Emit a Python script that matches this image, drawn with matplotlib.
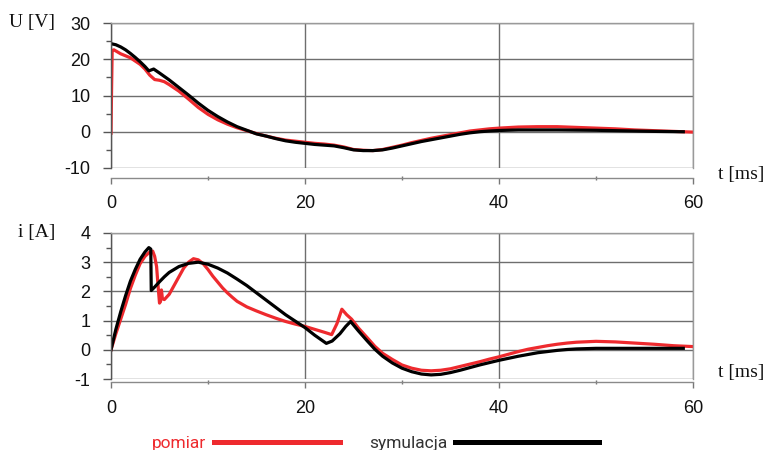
import matplotlib
matplotlib.use("Agg")
import matplotlib.pyplot as plt
from matplotlib.ticker import MultipleLocator
from matplotlib.lines import Line2D

plt.rcParams["axes.unicode_minus"] = False

# ---------------- data ----------------
# Voltage U [V] - measurement (pomiar)
t_u_meas = [0.0, 0.05, 0.12, 0.3, 1, 2, 3, 3.5, 4, 4.5, 5, 5.5, 6, 7, 8, 9, 10, 11, 12, 13,
            14, 15, 16, 17, 18, 19, 20, 21, 22, 23, 24, 25, 26, 27, 28, 29, 30, 31, 32,
            33, 34, 35, 36, 37, 38, 39, 40, 42, 44, 46, 48, 50, 52, 54, 56, 58, 60]
u_meas = [-0.4, 10.0, 22.4, 22.6, 21.5, 20.4, 18.6, 17.3, 15.6, 14.4, 14.2, 13.8, 13.0, 11.2,
          9.0, 6.7, 4.8, 3.3, 2.1, 1.1, 0.3, -0.5, -1.2, -1.8, -2.3, -2.6, -2.9, -3.2,
          -3.4, -3.7, -4.2, -4.9, -5.1, -5.2, -4.9, -4.3, -3.7, -3.0, -2.4, -1.8, -1.3,
          -0.8, -0.3, 0.2, 0.5, 0.8, 1.0, 1.3, 1.4, 1.4, 1.2, 1.0, 0.8, 0.5, 0.3, 0.1, -0.1]
# Voltage U [V] - simulation (symulacja)
t_u_sim = [0.0, 0.5, 1, 1.5, 2, 2.5, 3, 3.5, 3.9, 4.1, 4.4, 5, 6, 7, 8, 9, 10, 11, 12, 13,
           14, 15, 16, 17, 18, 19, 20, 21, 22, 23, 24, 25, 26, 27, 28, 29, 30, 31, 32,
           33, 34, 35, 36, 37, 38, 39, 40, 42, 44, 46, 48, 50, 52, 54, 56, 59]
u_sim = [24.3, 24.0, 23.4, 22.6, 21.6, 20.5, 19.3, 18.0, 16.8, 17.0, 17.3, 16.2, 14.3, 12.2,
         10.1, 7.9, 5.9, 4.2, 2.7, 1.4, 0.4, -0.6, -1.2, -1.9, -2.5, -2.9, -3.2, -3.5,
         -3.7, -3.9, -4.4, -5.0, -5.2, -5.2, -5.0, -4.5, -3.9, -3.3, -2.7, -2.2, -1.7,
         -1.2, -0.7, -0.3, 0.0, 0.2, 0.35, 0.5, 0.5, 0.5, 0.45, 0.4, 0.3, 0.2, 0.1, 0.0]

# Current i [A] - measurement (pomiar)
t_i_meas = [0.0, 0.5, 1, 1.5, 2, 2.5, 3, 3.5, 4, 4.3, 4.5, 4.7, 4.85, 5.0, 5.1, 5.2, 5.3,
            5.5, 6, 6.5, 7, 7.5, 8, 8.5, 9, 9.5, 10, 10.5, 11, 11.5, 12, 12.5, 13, 14,
            15, 16, 17, 18, 19, 20, 21, 22, 22.75, 23.3, 23.8, 24.3, 24.8, 25.5, 26.4,
            27.2, 28, 29, 30, 31, 32, 33, 34, 35, 36, 37, 38, 39, 40, 41, 42, 43, 44,
            45, 46, 47, 48, 50, 52, 54, 56, 58, 60]
i_meas = [0.0, 0.55, 1.05, 1.55, 2.1, 2.55, 2.95, 3.2, 3.35, 3.38, 3.2, 2.85, 2.2, 1.6,
          1.65, 2.05, 1.75, 1.72, 1.9, 2.2, 2.5, 2.8, 3.0, 3.12, 3.08, 2.95, 2.75, 2.52,
          2.32, 2.12, 1.95, 1.8, 1.66, 1.47, 1.33, 1.2, 1.08, 0.97, 0.88, 0.8, 0.7, 0.6,
          0.52, 0.9, 1.39, 1.2, 1.05, 0.75, 0.42, 0.12, -0.12, -0.33, -0.52, -0.63, -0.7,
          -0.72, -0.7, -0.65, -0.57, -0.49, -0.41, -0.32, -0.24, -0.15, -0.06, 0.02, 0.08,
          0.14, 0.19, 0.23, 0.26, 0.29, 0.27, 0.23, 0.19, 0.14, 0.11]
# Current i [A] - simulation (symulacja)
t_i_sim = [0.0, 0.5, 1, 1.5, 2, 2.5, 3, 3.5, 3.9, 4.1, 4.15, 4.5, 5, 5.5, 6, 7, 8, 9, 10,
           11, 12, 13, 14, 15, 16, 17, 18, 19, 20, 21, 22.2, 22.8, 23.6, 24.2, 24.7, 25.5,
           26.4, 27.2, 28, 29, 30, 31, 32, 33, 34, 35, 36, 37, 38, 39, 40, 41, 42, 43,
           44, 45, 46, 47, 48, 50, 59]
i_sim = [0.0, 0.7, 1.3, 1.85, 2.35, 2.75, 3.1, 3.35, 3.5, 3.45, 2.03, 2.15, 2.33, 2.5, 2.65,
         2.85, 2.96, 3.0, 2.93, 2.8, 2.63, 2.42, 2.2, 1.95, 1.7, 1.45, 1.2, 0.98, 0.76,
         0.5, 0.22, 0.3, 0.55, 0.8, 0.97, 0.65, 0.31, 0.02, -0.22, -0.45, -0.63, -0.75,
         -0.83, -0.86, -0.84, -0.78, -0.7, -0.61, -0.52, -0.44, -0.36, -0.29, -0.22,
         -0.16, -0.1, -0.06, -0.02, 0.01, 0.03, 0.05, 0.05]

x_ticks = [0, 20, 40, 60]
u_ticks = [-10, 0, 10, 20, 30]
i_ticks = [-1, 0, 1, 2, 3, 4]
labels = ["pomiar", "symulacja"]

RED = "#EE2A2E"
BLACK = "#000000"
GRID = "#6e6e6e"

W, H = 767, 450
fig = plt.figure(figsize=(W / 100, H / 100), dpi=100)


def px_axes(left, top, right, bottom):
    return fig.add_axes([left / W, 1 - bottom / H, (right - left) / W, (bottom - top) / H])


ax1 = px_axes(111, 23, 693, 168)
ax2 = px_axes(111, 233, 693, 379)

tick_font = dict(family="Liberation Sans", size=13)


def style(ax, yticks, ylim, yminor, offset):
    ax.set_xlim(0, 60)
    ax.set_ylim(*ylim)
    ax.set_xticks(x_ticks)
    ax.set_yticks(yticks)
    ax.xaxis.set_minor_locator(MultipleLocator(10))
    ax.yaxis.set_minor_locator(MultipleLocator(yminor))
    ax.grid(True, which="major", color=GRID, linewidth=1.0)
    ax.set_axisbelow(True)
    for s in ["top", "right"]:
        ax.spines[s].set_color("#9a9a9a")
        ax.spines[s].set_linewidth(1.0)
    ax.spines["left"].set_color("#555555")
    ax.spines["left"].set_linewidth(1.0)
    ax.spines["bottom"].set_position(("outward", offset))
    ax.spines["bottom"].set_color("#8a8a8a")
    ax.spines["bottom"].set_linewidth(1.0)
    ax.tick_params(axis="y", which="major", length=5.8, width=1, color="#555555", pad=9.0)
    ax.tick_params(axis="y", which="minor", length=3.6, width=1, color="#555555")
    ax.tick_params(axis="x", which="major", length=4.3, width=1, color="#777777", pad=8.5)
    ax.tick_params(axis="x", which="minor", direction="inout", length=3, width=1, color="#777777")
    for lab in ax.get_xticklabels() + ax.get_yticklabels():
        lab.set_fontfamily(tick_font["family"])
        lab.set_fontsize(tick_font["size"])
        lab.set_color("#111111")


ax1.plot(t_u_meas, u_meas, color=RED, linewidth=2.3, solid_joinstyle="round")
ax1.plot(t_u_sim, u_sim, color=BLACK, linewidth=2.3, solid_joinstyle="round")
style(ax1, u_ticks, (-10, 30), 5, 7)

ax2.plot(t_i_meas, i_meas, color=RED, linewidth=2.3, solid_joinstyle="round")
ax2.plot(t_i_sim, i_sim, color=BLACK, linewidth=2.3, solid_joinstyle="round")
style(ax2, i_ticks, (-1, 4), 0.5, 2)

serif = dict(family="Liberation Serif", size=14, color="#111111")
fig.text(55 / W, 1 - 23 / H, "U [V]", ha="right", va="center", **serif)
fig.text(55 / W, 1 - 233 / H, "i [A]", ha="right", va="center", **serif)
fig.text(718 / W, 1 - 175 / H, "t [ms]", ha="left", va="center", **serif)
fig.text(718 / W, 1 - 372 / H, "t [ms]", ha="left", va="center", **serif)

# legends (text before handle)
h1 = Line2D([], [], color=RED, linewidth=3.6)
h2 = Line2D([], [], color=BLACK, linewidth=3.6)
leg_font = dict(family="Roboto", size=12.5)
l1 = fig.legend([h1], [labels[0]], loc="center", bbox_to_anchor=(246 / W, 1 - 443 / H),
                frameon=False, markerfirst=False, handlelength=7.3, handletextpad=0.45,
                borderpad=0, borderaxespad=0, prop=leg_font, labelcolor=RED)
l2 = fig.legend([h2], [labels[1]], loc="center", bbox_to_anchor=(484 / W, 1 - 443 / H),
                frameon=False, markerfirst=False, handlelength=8.3, handletextpad=0.4,
                borderpad=0, borderaxespad=0, prop=leg_font, labelcolor="#333333")

fig.savefig("out.png", dpi=100)
